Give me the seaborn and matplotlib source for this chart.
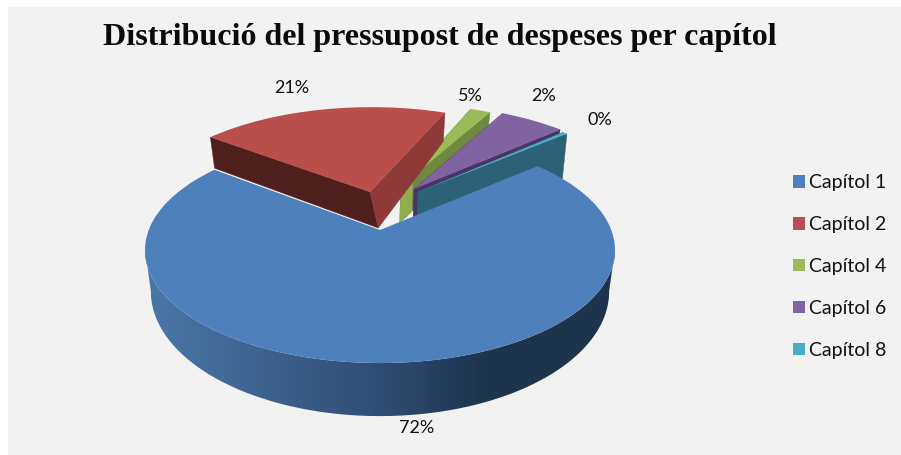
import numpy as np
import matplotlib
matplotlib.use('Agg')
import matplotlib.pyplot as plt
import seaborn as sns
from matplotlib.colors import LinearSegmentedColormap
from matplotlib.patches import Polygon, Rectangle
from matplotlib.transforms import Transform

# Values as drawn and the labels printed next to them (the picture does not quite agree with its labels)
chapters = ['Capítol 1', 'Capítol 2', 'Capítol 4', 'Capítol 6', 'Capítol 8']
slice_shares = [71.7, 20.8, 1.7, 5.4, 0.4]
slice_labels = ['72%', '21%', '5%', '2%', '0%']
title = 'Distribució del pressupost de despeses per capítol'

top_colors = ['#4e80bb', '#b94e4b', '#9bbb59', '#8064a2', '#4bacc6']
left_walls = ['#1e344d', '#4f1f1e', '#6f8a40', '#4a3568', '#2b6478']
right_walls = ['#1e344d', '#8e3a38', '#6f8a40', '#4a3568', '#2d6276']

# How far each slice is pulled out of the pie, in pie radii, and how tall its wall looks
slice_offsets = [(0, 0), (-0.046, 0.37), (0.095, 0.422), (0.1575, 0.40), (0.175, 0.37)]
slice_radii = [1, 1.03, 1.03, 1.04, 1.03]
wall_heights = [1, 1, 1, 1, 1.5]
draw_order = [2, 3, 4, 1, 0]
label_spots = [(417, 428), (292, 88), (470, 96), (544, 96), (600, 120)]

# Camera: pixel position of the pie centre, scales and perspective strength
CX, CY, SX, SY, K, DEPTH = 380, 230, 231.3, 109.5, 0.177, 39.6


def project(x, y, z=0.0, offset=(0, 0), height=1):
    x = np.asarray(x) + offset[0]
    y = np.asarray(y) + offset[1]
    w = 1 + K * y
    px = CX + SX * x / w * (1 - 0.025 * z)
    py = CY - SY * y / w + DEPTH * height * z / w ** 1.5
    return px, py


class Perspective(Transform):
    input_dims = output_dims = 2
    is_separable = False
    has_inverse = False

    def __init__(self, offset):
        super().__init__()
        self.offset = offset

    def transform_non_affine(self, values):
        px, py = project(values[:, 0], values[:, 1], offset=self.offset)
        return np.column_stack([px, py])


sns.set_theme(style='white')
plt.rcParams['font.family'] = ['Lato', 'DejaVu Sans']

fig = plt.figure(figsize=(9.01, 4.55), dpi=100, facecolor='white')
ax = fig.add_axes([0, 0, 1, 1])

wedges, _ = ax.pie(slice_shares, colors=sns.color_palette(top_colors), startangle=40.6,
                   counterclock=False, wedgeprops={'linewidth': 0})

ax.set_aspect('auto')
ax.set_xlim(0, 901)
ax.set_ylim(455, 0)
ax.axis('off')
ax.add_patch(Rectangle((8, 7), 893, 448, color='#f2f2f2', zorder=0))

# Back slices first, the big one last so it covers the others
for rank, i in enumerate(draw_order, start=1):
    wedge = wedges[i]
    offset = slice_offsets[i]
    height = wall_heights[i]
    radius = slice_radii[i]
    wedge.set_radius(radius)
    wedge.set_transform(Perspective(offset) + ax.transData)
    wedge.set_zorder(rank + 0.5)

    if i == 0:
        # Outer wall of the big slice, shaded from left to right
        angles = np.radians(np.linspace(-170, -10, 120))
        xs, ys = np.cos(angles), np.sin(angles)
        upper = np.column_stack(project(xs, ys, 0, offset, height))
        lower = np.column_stack(project(xs, ys, 1, offset, height))
        outline = Polygon(np.vstack([upper, lower[::-1]]), closed=True, fc='none', ec='none',
                          transform=ax.transData, zorder=rank)
        ax.add_patch(outline)
        shade = LinearSegmentedColormap.from_list(
            'wall', [(0, '#4a78a8'), (0.5, '#2f4e75'), (0.72, '#1f344e'), (1, '#1e344d')])
        im = ax.imshow(np.linspace(0, 1, 256)[None, :], cmap=shade, aspect='auto',
                       extent=(145, 615, 420, 240), interpolation='bilinear', zorder=rank)
        im.set_clip_path(outline)
        ax.set_xlim(0, 901)
        ax.set_ylim(455, 0)
        continue

    # Flat side walls along the two straight edges of the slice
    for angle, color in ((wedge.theta2, left_walls[i]), (wedge.theta1, right_walls[i])):
        rx, ry = radius * np.cos(np.radians(angle)), radius * np.sin(np.radians(angle))
        corners = [project(0, 0, 0, offset, height), project(rx, ry, 0, offset, height),
                   project(rx, ry, 1, offset, height), project(0, 0, 1, offset, height)]
        if i == 1:
            # the foot of the red slice sits a little to the right of its tip
            corners[3] = (corners[3][0] + 8, corners[3][1])
        ax.add_patch(Polygon(corners, closed=True, fc=color, ec=color, lw=0.3, zorder=rank))

    if i == 2:
        # Lighter end of the green wall, next to the tip
        rx, ry = 0.12 * radius * np.cos(np.radians(wedge.theta1)), 0.12 * radius * np.sin(np.radians(wedge.theta1))
        corners = [project(0, 0, 0, offset, height), project(rx, ry, 0, offset, height),
                   project(rx, ry, 1, offset, height), project(0, 0, 1, offset, height)]
        ax.add_patch(Polygon(corners, closed=True, fc='#8fae51', ec='#8fae51', lw=0.3, zorder=rank))

for text, (x, y) in zip(slice_labels, label_spots):
    ax.text(x, y, text, fontsize=13, color='#111111', ha='center', va='center', zorder=10)

ax.text(440, 38, title, family='Liberation Serif', fontweight='bold', fontsize=23,
        color='#0a0a0a', ha='center', va='center', zorder=10)

legend = ax.legend(wedges, chapters, loc='center left', bbox_to_anchor=(775 / 901, 1 - 266.5 / 455),
                   frameon=False, fontsize=14, handlelength=0.62, handleheight=0.62,
                   handletextpad=0.25, labelspacing=1.28, labelcolor='#111111')
legend.set_zorder(10)

fig.savefig('out.png', dpi=100, facecolor=fig.get_facecolor())
